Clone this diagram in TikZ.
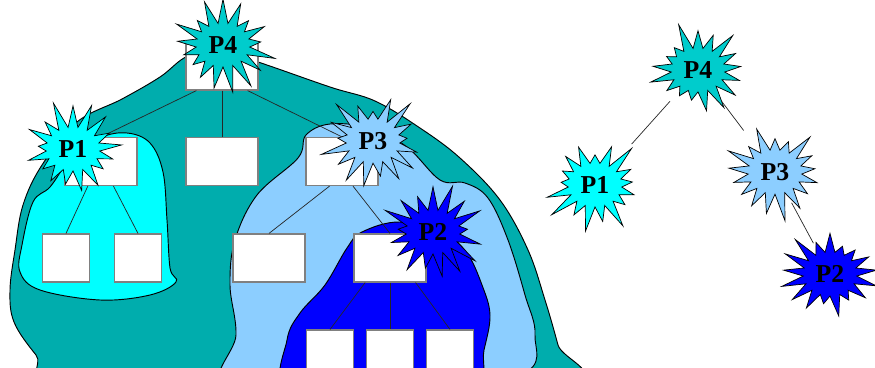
\documentclass[tikz,border=0pt]{standalone}
\usepackage{fontspec}
\setmainfont{Liberation Serif}
\usepackage{tikz}
\usetikzlibrary{shapes.symbols, calc}
\definecolor{TreeTeal}{RGB}{0,173,173}
\definecolor{StarTeal}{RGB}{0,204,204}
\definecolor{ProcCyan}{RGB}{0,255,255}
\definecolor{ProcSky}{RGB}{140,206,255}
\definecolor{ProcBlue}{RGB}{0,0,255}
\tikzset{
  heap/.style={draw=black, line width=0.8pt},
  tbox/.style={draw=black!50, line width=1pt, fill=white, inner sep=0pt,
    minimum width=2.16cm, minimum height=1.44cm},
  sbox/.style={tbox, minimum width=1.42cm},
  proc/.style={starburst, draw=black, line width=0.6pt, starburst points=17,
    starburst point height=0.85cm, inner xsep=4pt, inner ysep=6pt,
    font=\fontsize{22}{24}\selectfont\bfseries},
  link/.style={black!85, line width=0.6pt}
}
\begin{document}
\begin{tikzpicture}[x=0.03cm, y=-0.03cm]
      \useasboundingbox (0,0) rectangle (875,368);
      \clip (0,0) rectangle (875,368);
      %% Nested process regions
      \filldraw[heap, fill=TreeTeal] plot[smooth cycle, tension=0.6] coordinates {
        (64,385) (36,355) (14,322) (10,290) (15,250) (23,205) (42,165) (77,122)
        (122,99) (160,77) (188,56) (222,52) (258,62) (330,87) (375,101)
        (420,128) (460,158) (500,200) (528,250) (545,300) (558,345) (568,385)
        (300,400)};
      \filldraw[heap, fill=ProcCyan] plot[smooth cycle, tension=0.6] coordinates {
        (50,187) (33,202) (22,245) (20,272) (40,290) (100,300) (150,295)
        (176,282) (170,268) (167,220) (163,172) (150,143) (127,133) (100,138)
        (70,160)};
      \filldraw[heap, fill=ProcSky] plot[smooth cycle, tension=0.6] coordinates {
        (227,390) (236,335) (230,285) (235,240) (257,195) (298,158) (306,135)
        (330,124) (370,128) (407,147) (440,180) (465,183) (488,198) (508,240)
        (525,295) (535,335) (520,375) (380,395)};
      \filldraw[heap, fill=ProcBlue] plot[smooth cycle, tension=0.6] coordinates {
        (287,390) (287,340) (300,313) (325,285) (347,248) (362,232) (400,222)
        (445,235) (467,253) (482,285) (490,315) (484,350) (473,390) (380,400)};
      %% Search tree boxes
      \node[tbox] (b4) at (222,66) {};
      \node[tbox] (b1) at (101,161.5) {};
      \node[tbox] (bm) at (222,161.5) {};
      \node[tbox] (b3) at (342,161.5) {};
      \node[sbox] (c1) at (66,258) {};
      \node[sbox] (c2) at (138,258) {};
      \node[tbox] (l1) at (269,258) {};
      \node[tbox] (b2) at (390,258) {};
      \node[sbox] (d1) at (330,354) {};
      \node[sbox] (d2) at (390,354) {};
      \node[sbox] (d3) at (450,354) {};
      \draw[link] ($(b4.south west)!.15!(b4.south east)$) -- (b1.north);
      \draw[link] (b4.south) -- (bm.north);
      \draw[link] ($(b4.south west)!.85!(b4.south east)$) -- (b3.north);
      \draw[link] ($(b1.south west)!.32!(b1.south east)$) -- (c1.north);
      \draw[link] ($(b1.south west)!.67!(b1.south east)$) -- (c2.north);
      \draw[link] ($(b3.south west)!.33!(b3.south east)$) -- (l1.north);
      \draw[link] ($(b3.south west)!.65!(b3.south east)$) -- (b2.north);
      \draw[link] ($(b2.south west)!.16!(b2.south east)$) -- (d1.north);
      \draw[link] (b2.south) -- (d2.north);
      \draw[link] ($(b2.south west)!.85!(b2.south east)$) -- (d3.north);
      %% Process stars on the tree
      \node[proc, fill=StarTeal, random starburst=4] (p4) at (223,45) {P4};
      \node[proc, fill=ProcCyan, random starburst=11] (p1) at (73,149) {P1};
      \node[proc, fill=ProcSky, random starburst=23] (p3) at (373,141) {P3};
      \node[proc, fill=ProcBlue, random starburst=37] (p2) at (433,232) {P2};
      %% Process tree
      \node[proc, fill=StarTeal, random starburst=5] (r4) at (698,70) {P4};
      \node[proc, fill=ProcCyan, random starburst=13] (r1) at (595,185) {P1};
      \node[proc, fill=ProcSky, random starburst=29] (r3) at (775,172) {P3};
      \node[proc, fill=ProcBlue, random starburst=41] (r2) at (830,274) {P2};
      \draw[link, shorten <=1.26cm, shorten >=1.65cm] (r4.center) -- (r1.center);
      \draw[link, shorten <=1.17cm, shorten >=1.56cm] (r4.center) -- (r3.center);
      \draw[link, shorten <=1.05cm, shorten >=1.05cm] (r3.center) -- (r2.center);
    \end{tikzpicture}
\end{document}
